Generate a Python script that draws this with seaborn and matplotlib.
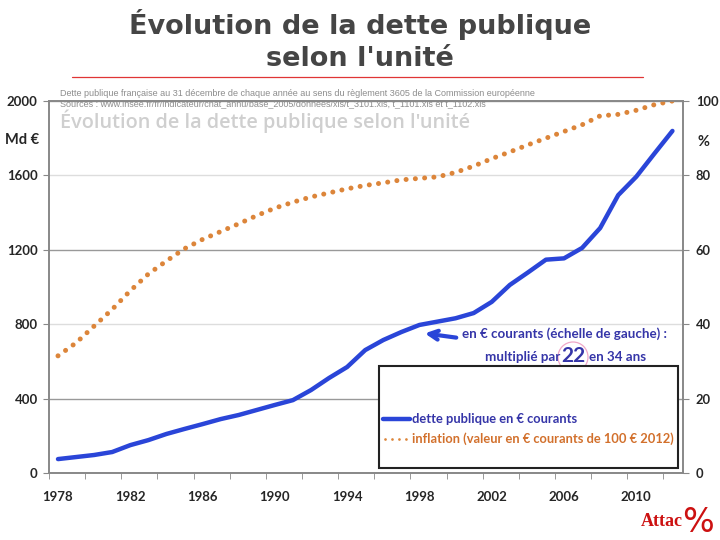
import numpy as np
import pandas as pd
import seaborn as sns
import matplotlib.pyplot as plt
from matplotlib.patches import Rectangle, Ellipse
from matplotlib.lines import Line2D

# données
annees = list(range(1978, 2013))
dette = [75, 86, 97, 113, 150, 177, 210, 237, 263, 290, 312, 339, 366, 392, 446, 511,
         570, 661, 715, 758, 796, 814, 832, 860, 920, 1011, 1078, 1147, 1154, 1210, 1317,
         1494, 1593, 1717, 1839]
inflation = [31.5, 35, 39.5, 44, 49, 53.5, 57, 60.3, 62.8, 64.9, 67, 69.2, 71.2, 72.8,
             74.2, 75.3, 76.4, 77.3, 78, 78.8, 79.2, 79.6, 80.8, 82.5, 84.5, 86.3, 88.2,
             90, 91.8, 93.6, 96, 96.4, 97.5, 99, 100]
ticks_gauche = [0, 400, 800, 1200, 1600, 2000]
ticks_droite = [0, 20, 40, 60, 80, 100]
ticks_annees = list(range(1978, 2011, 4))

df = pd.DataFrame({'annee': annees, 'dette': dette, 'inflation': inflation})

bleu = '#2a45d8'
orange = '#dc853a'
txt_bleu = '#3535a8'
txt_orange = '#d2702c'

sns.set_style('white')
plt.rcParams['font.family'] = ['Lato', 'DejaVu Sans']

fig = plt.figure(figsize=(7.2, 5.4), dpi=100)
ax = fig.add_axes([0.068, 0.124, 0.881, 0.689])
ax2 = ax.twinx()

sns.lineplot(data=df, x='annee', y='dette', ax=ax, color=bleu, lw=3.2,
             solid_capstyle='round', zorder=3)
sns.lineplot(data=df, x='annee', y='inflation', ax=ax2, color=orange, lw=3.6,
             linestyle=(0, (0.01, 1.85)), dash_capstyle='round')

ax.set_xlim(1977.5, 2012.6)
ax.set_ylim(0, 2000)
ax2.set_ylim(0, 100)
ax.set_xlabel('')
ax.set_ylabel('')
ax2.set_ylabel('')

ax.set_yticks(ticks_gauche)
ax.set_yticklabels([str(t) for t in ticks_gauche], fontweight='bold', fontsize=9.5)
ax2.set_yticks(ticks_droite)
ax2.set_yticklabels([str(t) for t in ticks_droite], fontweight='bold', fontsize=9.3)
ax.set_xticks(ticks_annees)
ax.set_xticklabels([str(a) for a in ticks_annees], fontweight='bold', fontsize=9.5)
ax.set_xticks(np.arange(1977.5, 2013, 2), minor=True)
ax.tick_params(axis='x', which='major', length=0, pad=13)
ax.tick_params(axis='x', which='minor', length=4, color='#888888', direction='out', bottom=True)
ax.tick_params(axis='y', length=4, color='#888888', direction='out', left=True, pad=4)
ax2.tick_params(axis='y', length=4, color='#888888', direction='out', right=True, pad=5)

# grille
ax.yaxis.grid(True)
couleurs_grille = ['#999999', '#999999', '#dddddd', '#999999', '#dddddd', '#999999']
for gl, c in zip(ax.get_ygridlines(), couleurs_grille):
    gl.set_color(c)
    gl.set_linewidth(1)
for a in (ax, ax2):
    for s in a.spines.values():
        s.set_color('#888888')
        s.set_linewidth(1.2)

# titre
fig.text(0.5, 1 - 40 / 540, "Évolution de la dette publique\nselon l'unité", ha='center', va='center',
         fontsize=19.5, fontweight='bold', color='#454545', family='DejaVu Sans', linespacing=1.3)
fig.add_artist(Line2D([72 / 720, 643 / 720], [1 - 77 / 540, 1 - 77 / 540],
                      color='#e03535', lw=0.9))

# textes dans le graphique
fig.text(60 / 720, 1 - 93 / 540,
         "Dette publique française au 31 décembre de chaque année au sens du règlement 3605 de la Commission européenne",
         fontsize=6.5, color='#8c8c8c', va='center', family='Liberation Sans')
fig.text(60 / 720, 1 - 104 / 540,
         "Sources : www.insee.fr/fr/indicateur/cnat_annu/base_2005/donnees/xls/t_3101.xls, t_1101.xls et t_1102.xls",
         fontsize=6.5, color='#8c8c8c', va='center', family='Liberation Sans')
fig.text(60 / 720, 1 - 121 / 540, "Évolution de la dette publique selon l'unité",
         fontsize=14.3, color='#cfcfcf', va='center', fontweight='semibold', family='Open Sans')

fig.text(22 / 720, 1 - 140 / 540, "Md €", fontsize=10.5, fontweight='bold', ha='center', va='center')
fig.text(703 / 720, 1 - 142 / 540, "%", fontsize=10.5, fontweight='bold', ha='center', va='center')

# annotation
ax.annotate('', xy=(422 / 720, 1 - 333 / 540), xycoords='figure fraction',
            xytext=(459 / 720, 1 - 338 / 540), textcoords='figure fraction',
            arrowprops=dict(arrowstyle='->', color=bleu, lw=3, mutation_scale=16))
fig.text(462 / 720, 1 - 334 / 540, "en € courants (échelle de gauche) :", fontsize=9.6,
         fontweight='bold', color=txt_bleu, va='center')
fig.text(560 / 720, 1 - 357 / 540, "multiplié par", fontsize=9.6, fontweight='bold',
         color=txt_bleu, va='center', ha='right')
fig.text(573 / 720, 1 - 356 / 540, "22", fontsize=15, fontweight='bold',
         color=txt_bleu, va='center', ha='center')
fig.text(589 / 720, 1 - 357 / 540, "en 34 ans", fontsize=9.6, fontweight='bold',
         color=txt_bleu, va='center')
fig.add_artist(Ellipse((573 / 720, 1 - 357 / 540), 30 / 720, 30 / 540,
                       transform=fig.transFigure, fill=False, edgecolor='#f0a8c8', lw=0.9))

# légende encadrée
fig.add_artist(Rectangle((379 / 720, 1 - 468 / 540), 299 / 720, 102 / 540,
                         transform=fig.transFigure, facecolor='white', edgecolor='#222222',
                         lw=1.5, zorder=5))
fig.add_artist(Line2D([383 / 720, 410 / 720], [1 - 419 / 540, 1 - 419 / 540],
                      color=bleu, lw=3.2, zorder=6))
fig.add_artist(Line2D([385 / 720, 410 / 720], [1 - 439 / 540, 1 - 439 / 540],
                      color=orange, lw=2, linestyle=(0, (0.01, 2.5)), dash_capstyle='round', zorder=6))
fig.text(412 / 720, 1 - 419 / 540, "dette publique en € courants", fontsize=9.3,
         fontweight='bold', color=txt_bleu, va='center', zorder=7)
fig.text(412 / 720, 1 - 439 / 540, "inflation (valeur en € courants de 100 € 2012)", fontsize=9.3,
         fontweight='bold', color=txt_orange, va='center', zorder=7)

# logo
fig.text(683 / 720, 1 - 521 / 540, "Attac", fontsize=13, fontweight='bold', color='#cc1111',
         family='Liberation Serif', ha='right', va='center')
fig.text(698 / 720, 1 - 522 / 540, "%", fontsize=24, color='#cc1111',
         family='DejaVu Sans', ha='center', va='center')

fig.savefig('out.png', dpi=100)
